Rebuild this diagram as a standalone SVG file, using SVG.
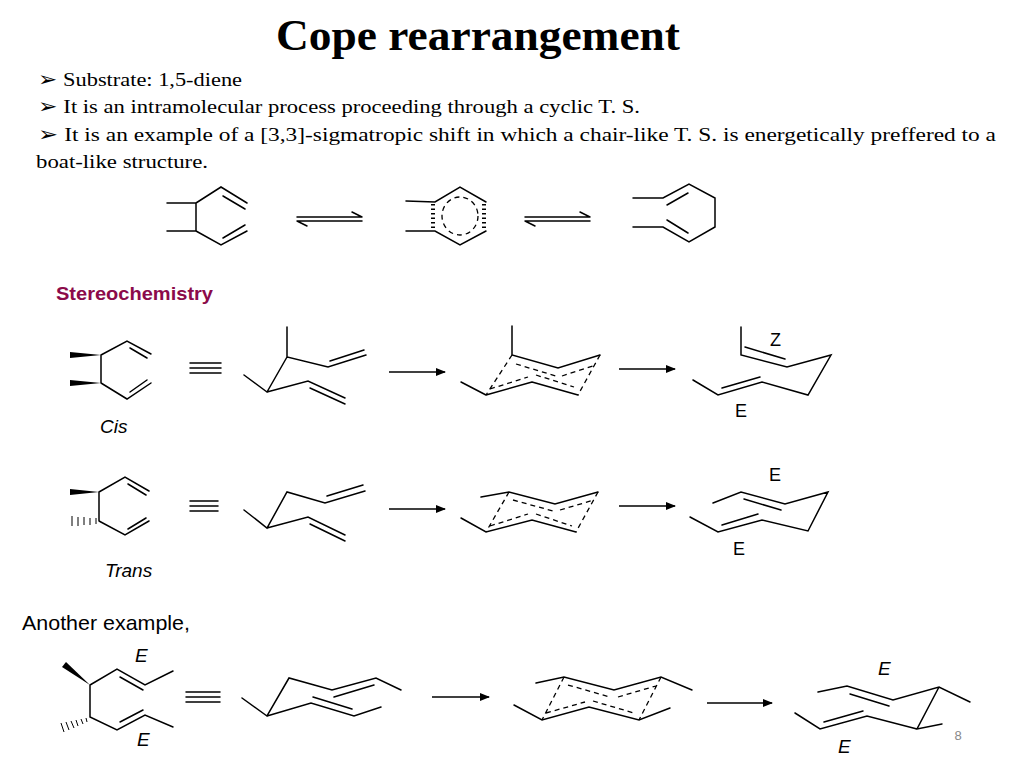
<svg xmlns="http://www.w3.org/2000/svg" width="1024" height="768" viewBox="0 0 1024 768">
<style>
.b{stroke:#000;stroke-width:1.5;fill:none;stroke-linecap:round}
.d{stroke:#000;stroke-width:1.3;fill:none;stroke-dasharray:5 4}
.s{font-family:"Liberation Serif",serif;font-size:19.5px}
.l{font-family:"Liberation Sans",sans-serif;font-size:18px}
.i{font-family:"Liberation Sans",sans-serif;font-size:19px;font-style:italic}
</style>
<defs>
<marker id="ah" markerWidth="10" markerHeight="8" refX="9" refY="4" orient="auto" markerUnits="userSpaceOnUse"><path d="M0,0 L10,4 L0,8 z" fill="#000"/></marker>
</defs>
<rect width="1024" height="768" fill="#fff"/>
<text x="478" y="50" text-anchor="middle" font-family="Liberation Serif,serif" font-size="44" font-weight="bold" textLength="404" lengthAdjust="spacingAndGlyphs">Cope rearrangement</text>
<text class="s" x="38" y="86" textLength="204" lengthAdjust="spacingAndGlyphs">➢ Substrate: 1,5-diene</text>
<text class="s" x="38" y="113" textLength="602" lengthAdjust="spacingAndGlyphs">➢ It is an intramolecular process proceeding through a cyclic T. S.</text>
<text class="s" x="38" y="141" textLength="958" lengthAdjust="spacingAndGlyphs">➢ It is an example of a [3,3]-sigmatropic shift in which a chair-like T. S. is energetically preffered to a</text>
<text class="s" x="36" y="168" textLength="172" lengthAdjust="spacingAndGlyphs">boat-like structure.</text>
<text x="56" y="300" font-family="Liberation Sans,sans-serif" font-size="19" font-weight="bold" fill="#8b0a4a" textLength="157" lengthAdjust="spacingAndGlyphs">Stereochemistry</text>
<text x="22" y="630" font-family="Liberation Sans,sans-serif" font-size="21" textLength="168" lengthAdjust="spacingAndGlyphs">Another example,</text>
<text x="958" y="740" font-family="Liberation Sans,sans-serif" font-size="13" fill="#888" text-anchor="middle">8</text>

<g id="top-diene">
<path class="b" d="M167,203 H196 V231 H167 M196,203 L221,187 L247,203 M223,196 L245,209 M196,231 L221,245 L247,231 M223,238 L245,225"/>
</g>
<g id="top-ts">
<path class="b" d="M406,201 L435,202 L460,187 L486,202 M406,231 L435,231 L460,245 L486,231"/>
<path d="M433,204 V229 M484,204 V229" stroke="#000" stroke-width="4" stroke-dasharray="1.5 3" fill="none"/>
<ellipse cx="460" cy="216" rx="18" ry="19" class="d" stroke-dasharray="4 4"/>
</g>
<g id="top-product">
<path class="b" d="M633,198 H663 L689,184 L715,198 V227 L689,242 L663,227 H633 M667,205 L688,193 M667,220 L688,233"/>
</g>
<g id="cis-diene">
<path d="M101,355 L70,352 L70,358 z M101,383 L70,380 L70,386 z" fill="#000"/>
<path class="b" d="M101,355 V383 M101,355 L127,341 L151,354 M130,348 L147,358 M101,383 L127,399 L151,383 M130,392 L147,380"/>
</g>
<g id="cis-zz">
<path class="b" d="M287,327 V357 L328,367 L366,355 M330,361 L364,350 M287,357 L267,392 L244,375 M267,392 L308,381 L345,398 M310,388 L345,404"/>
</g>
<g id="cis-ts">
<path class="b" d="M512,326 V355 L558,368 L600,355 M486,395 L461,382 M532,382 L578,395 M486,395 L532,382"/>
<path class="d" d="M512,355 L486,395 M600,355 L578,395 M516,364 L556,376 M562,376 L596,365 M490,389 L528,377 M536,375 L574,387"/>
</g>
<g id="cis-product">
<path class="b" d="M741,327 V355 L787,367 L831,355 L808,395 L762,382 L718,395 L693,380 M745,347 L785,359 M722,388 L760,377"/>
</g>
<g id="trans-diene">
<path d="M99,492 L70,489 L70,495 z" fill="#000"/>
<path class="b" d="M99,492 V521 M99,492 L125,477 L149,491 M128,484 L146,495 M99,521 L125,535 L149,521 M128,529 L146,518"/>
<path d="M96,518 V524 M90,518 V525 M84,517 V525 M78,517 V526 M72,516 V526" stroke="#000" stroke-width="1"/>
</g>
<g id="trans-zz">
<path class="b" d="M244,510 L267,528 L287,492 L325,503 L365,491 M327,496 L363,485 M267,528 L308,517 L345,535 M310,524 L345,541"/>
</g>
<g id="trans-ts">
<path class="b" d="M481,497 L509,492 L555,504 L598,492 M461,518 L486,532 L532,520 L576,532"/>
<path class="d" d="M509,492 L486,532 M598,492 L576,532 M513,500 L553,511 M560,510 L594,500 M490,526 L528,514 M536,514 L572,526"/>
</g>
<g id="trans-product">
<path class="b" d="M713,503 L741,492 L785,504 L828,492 L808,531 L762,520 L718,532 L690,517 M744,499 L781,510 M722,525 L758,514"/>
</g>
<g id="ex-diene">
<path d="M90,685 L62,667 L66,662 z" fill="#000"/>
<path class="b" d="M90,685 L117,669 L145,685 L173,671 M120,677 L143,690 M90,685 V717 L117,730 L145,715 L173,727 M120,722 L143,710"/>
<path d="M86,718 L87,722 M81,719 L83,724 M76,720 L78,726 M71,721 L74,728 M66,722 L69,730 M61,723 L64,732" stroke="#000" stroke-width="1"/>
</g>
<g id="ex-zz">
<path class="b" d="M242,698 L267,716 L289,678 L332,690 L376,678 L401,690 M334,697 L374,685 M267,716 L311,703 L354,716 L381,707 M313,697 L352,709"/>
</g>
<g id="ex-ts">
<path class="b" d="M536,683 L564,677 L614,690 L661,677 L692,690 M514,705 L542,720 L589,707 L639,720 L670,708"/>
<path class="d" d="M564,677 L542,720 M661,677 L639,720 M568,685 L610,697 M618,697 L656,686 M546,713 L585,702 M593,701 L634,713"/>
</g>
<g id="ex-product">
<path class="b" d="M818,692 L847,686 L893,700 L939,687 L970,702 M939,687 L917,729 L942,724 M917,729 L867,716 L820,729 L795,713 M850,694 L889,706 M824,722 L863,711"/>
</g>
<g id="connectors">
<path class="b" d="M297,217 H362 M362,217 L352,212 M297,221 H362 M297,221 L307,226"/>
<path class="b" d="M525,217 H590 M590,217 L580,212 M525,221 H590 M525,221 L535,226"/>
<line x1="190" y1="363" x2="221" y2="363" class="b"/><line x1="190" y1="368" x2="221" y2="368" class="b"/><line x1="190" y1="373" x2="221" y2="373" class="b"/>
<line x1="190" y1="501" x2="218" y2="501" class="b"/><line x1="190" y1="506" x2="218" y2="506" class="b"/><line x1="190" y1="511" x2="218" y2="511" class="b"/>
<line x1="186" y1="692" x2="220" y2="692" class="b"/><line x1="186" y1="697" x2="220" y2="697" class="b"/><line x1="186" y1="702" x2="220" y2="702" class="b"/>
<line x1="389" y1="372" x2="445" y2="372" stroke="#000" stroke-width="1.5" marker-end="url(#ah)"/>
<line x1="619" y1="369" x2="675" y2="369" stroke="#000" stroke-width="1.5" marker-end="url(#ah)"/>
<line x1="389" y1="509" x2="445" y2="509" stroke="#000" stroke-width="1.5" marker-end="url(#ah)"/>
<line x1="619" y1="506" x2="675" y2="506" stroke="#000" stroke-width="1.5" marker-end="url(#ah)"/>
<line x1="432" y1="697" x2="489" y2="697" stroke="#000" stroke-width="1.5" marker-end="url(#ah)"/>
<line x1="707" y1="703" x2="772" y2="703" stroke="#000" stroke-width="1.5" marker-end="url(#ah)"/>
</g>
<text class="i" x="100" y="433">Cis</text>
<text class="i" x="105" y="577">Trans</text>
<text class="l" x="770" y="346">Z</text>
<text class="l" x="735" y="417">E</text>
<text class="l" x="769" y="481">E</text>
<text class="l" x="733" y="555">E</text>
<text class="i" x="135" y="662">E</text>
<text class="i" x="137" y="746">E</text>
<text class="i" x="878" y="675">E</text>
<text class="i" x="838" y="753">E</text>
</svg>
